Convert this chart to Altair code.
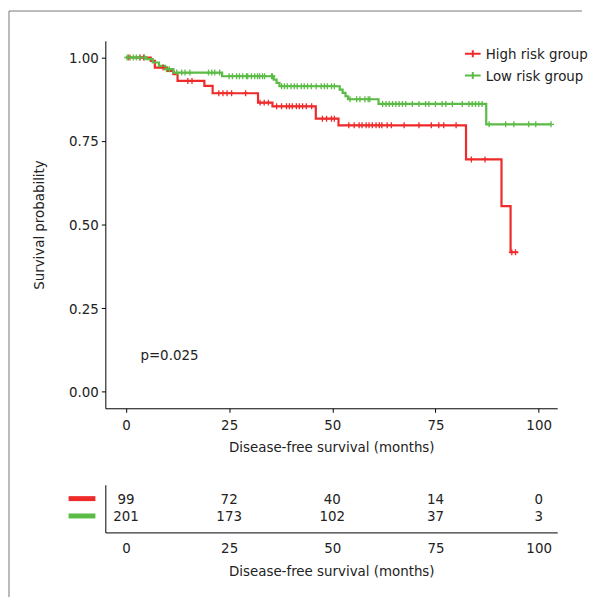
import altair as alt
import pandas as pd

FONT = "DejaVu Sans Condensed, DejaVu Sans, sans-serif"
groups = ["High risk group", "Low risk group"]
colors = ["#EE2A2A", "#5BBB46"]

# Kaplan-Meier step points (time in months, survival probability)
high_t = [0, 6, 7, 10, 11.5, 12.5, 19, 21, 32, 35.5, 46, 51.5, 82.4, 91, 93.2, 95]
high_s = [1.0, 0.99, 0.97, 0.96, 0.95, 0.93, 0.915, 0.893, 0.865, 0.854, 0.817, 0.797, 0.695, 0.555, 0.417, 0.417]
high_cens = [0.7, 3.4, 4.3, 9, 15, 16, 22.5, 23.5, 24.5, 25.6, 29, 32.5, 33.5, 34.5, 36.5, 37.7, 38.9,
             39.6, 40.3, 41.3, 42, 42.8, 43.7, 45, 47.6, 48.6, 49.8, 50.5, 54, 55.3, 56.5, 57.2, 58.2,
             58.9, 59.7, 60.6, 61.4, 62, 63.3, 64.3, 67.4, 71, 74, 75.8, 77, 80, 83.7, 87, 93.5, 94.4]

low_t = [0, 5, 6.5, 8, 9.5, 11.5, 23.3, 35.8, 36.5, 37.2, 51.8, 52.5, 53.2, 53.8, 61.2, 87.3, 103]
low_s = [1.0, 0.995, 0.985, 0.975, 0.965, 0.955, 0.944, 0.934, 0.924, 0.914, 0.904, 0.894, 0.884,
         0.875, 0.861, 0.80, 0.80]
low_cens = [0.3, 1.0, 1.8, 2.5, 3.3, 4.5, 9.8, 10.5, 12.3, 13.5, 14.3, 15.5, 20.0, 20.8, 21.5, 22.7,
            25.0, 25.8, 26.8, 27.5, 28.3, 29.2, 29.5, 30.4, 31.2, 31.9, 32.4, 33.1, 33.6, 35.3, 35.5,
            37.7, 38.4, 39.1, 40.0, 40.8, 41.5, 42.5, 43.2, 44.0, 44.9, 46.1, 47.3, 48.1, 48.8, 49.8,
            50.5, 54.3, 55.9, 56.7, 57.9, 58.7, 59.1, 62.2, 63.0, 63.8, 64.6, 65.4, 66.2, 67.0, 67.8,
            69.4, 71.0, 72.6, 73.4, 75.0, 76.6, 77.5, 79.1, 81.5, 83.1, 83.9, 84.7, 85.5, 86.3,
            88, 92, 94, 97.6, 99.3, 103]

# Numbers at risk
risk_times = [0, 25, 50, 75, 100]
high_risk = [99, 72, 40, 14, 0]
low_risk = [201, 173, 102, 37, 3]

p_label = ["p=0.025"]
p_x = [3.5]
p_y = [0.11]

x_ticks = [0, 25, 50, 75, 100]
y_ticks = [0, 0.25, 0.5, 0.75, 1.0]


def step_value(ts, ss, t):
    v = ss[0]
    for a, b in zip(ts, ss):
        if a <= t:
            v = b
    return v


line_rows, cens_rows = [], []
for g, ts, ss, cs in [(groups[0], high_t, high_s, high_cens), (groups[1], low_t, low_s, low_cens)]:
    for t, s in zip(ts, ss):
        line_rows.append({"group": g, "time": t, "surv": s})
    for c in cs:
        cens_rows.append({"group": g, "time": c, "surv": step_value(ts, ss, c)})
line_df = pd.DataFrame(line_rows)
cens_df = pd.DataFrame(cens_rows)

tab_rows = []
for g, ns in [(groups[0], high_risk), (groups[1], low_risk)]:
    for t, n in zip(risk_times, ns):
        tab_rows.append({"group": g, "time": t, "n": str(n)})
tab_df = pd.DataFrame(tab_rows)
key_df = pd.DataFrame({"group": groups})
p_df = pd.DataFrame({"label": p_label, "time": p_x, "surv": p_y})

xscale = alt.Scale(domain=[-5, 104.5], nice=False, zero=False)
yscale = alt.Scale(domain=[-0.05, 1.05], nice=False, zero=False)
cscale = alt.Scale(domain=groups, range=colors)

legend = alt.Legend(title=None, orient="none", legendX=361, legendY=4,
                    symbolType="M-1,0L1,0M0,-0.45L0,0.45", symbolSize=250,
                    symbolStrokeWidth=2, labelFontSize=15, labelFont=FONT,
                    labelColor="#222", rowPadding=5, padding=0, labelOffset=4)

X = alt.X("time:Q", scale=xscale,
          axis=alt.Axis(values=x_ticks, title="Disease-free survival (months)", grid=False,
                        tickSize=4, labelPadding=5, titlePadding=8))
Y = alt.Y("surv:Q", scale=yscale,
          axis=alt.Axis(values=y_ticks, format=".2f", title="Survival probability", grid=False,
                        tickSize=4, labelPadding=3, titlePadding=22))

lines = alt.Chart(line_df).mark_line(interpolate="step-after", strokeWidth=2.2).encode(
    x=X, y=Y, color=alt.Color("group:N", scale=cscale, legend=legend))
cens = alt.Chart(cens_df).mark_point(shape="M-1,0L1,0M0,-1L0,1", size=36, strokeWidth=1.3,
                                     filled=False, opacity=1).encode(
    x="time:Q", y="surv:Q", color=alt.Color("group:N", scale=cscale, legend=legend))
ptext = alt.Chart(p_df).mark_text(align="left", baseline="middle", fontSize=15, font=FONT,
                                  color="#222").encode(x="time:Q", y="surv:Q", text="label:N")
frame_left = alt.Chart(key_df.head(1)).mark_rule(color="#777", strokeWidth=1).encode(
    x=alt.value(-97), y=alt.value(-30), y2=alt.value(560))
frame_top = alt.Chart(key_df.head(1)).mark_rule(color="#777", strokeWidth=1).encode(
    x=alt.value(-97), x2=alt.value(480), y=alt.value(-30))

km = alt.layer(frame_left, frame_top, lines, cens, ptext).properties(width=455, height=370)

Xt = alt.X("time:Q", scale=xscale,
           axis=alt.Axis(values=x_ticks, title="Disease-free survival (months)", grid=False,
                         ticks=False, labelPadding=8, titlePadding=8))
Yt = alt.Y("group:N", scale=alt.Scale(domain=groups, padding=0.75, align=0.45),
           axis=alt.Axis(labels=False, ticks=False, title=None, grid=False))
tab_text = alt.Chart(tab_df).mark_text(fontSize=15, font=FONT, color="#222").encode(
    x=Xt, y=Yt, text="n:N")
keys = alt.Chart(key_df).mark_rule(strokeWidth=5).encode(
    x=alt.value(-37), x2=alt.value(-10), y=Yt,
    color=alt.Color("group:N", scale=cscale, legend=None))
table = alt.layer(tab_text, keys).properties(width=455, height=48)

chart = alt.vconcat(km, table, spacing=77, bounds="flush").resolve_scale(
    color="independent").properties(padding=0).configure_view(stroke=None).configure_axis(
    domainColor="#000", tickColor="#000", labelFont=FONT, titleFont=FONT, labelFontSize=15,
    titleFontSize=15, labelColor="#222", titleColor="#222", titleFontWeight="normal")

chart.save("out.html", embed_options={"renderer": "svg", "actions": False})
